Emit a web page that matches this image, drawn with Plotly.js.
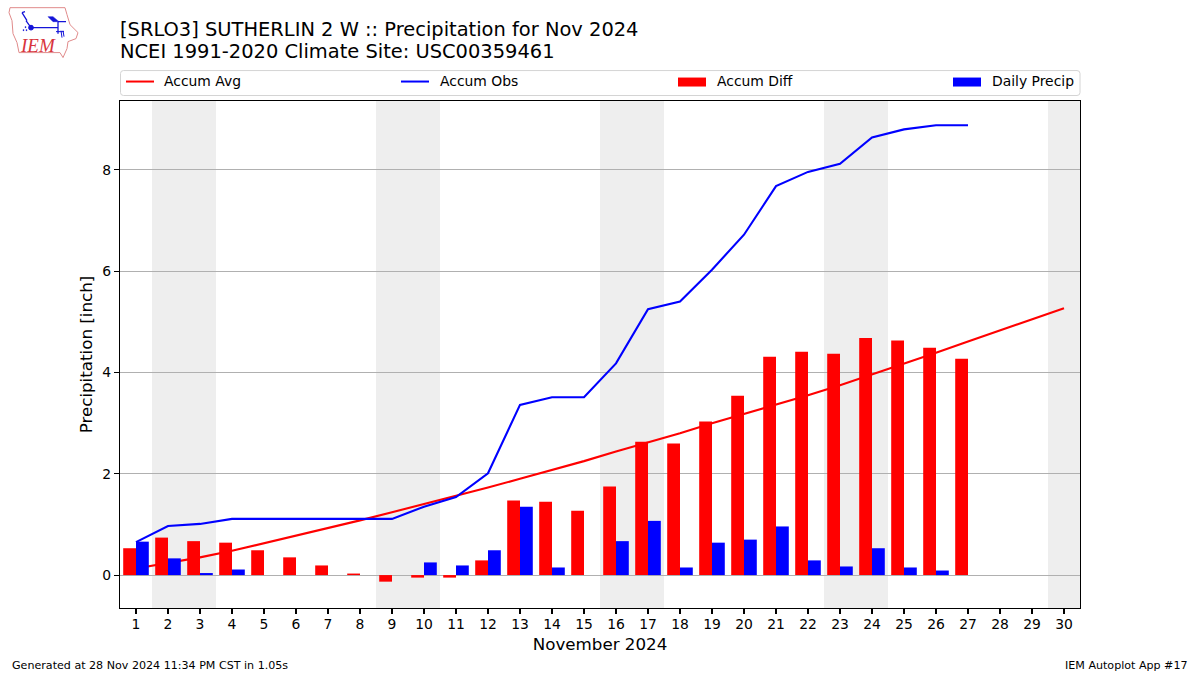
<!DOCTYPE html>
<html>
<head>
<meta charset="utf-8">
<script src="https://cdn.plot.ly/plotly-3.0.1.min.js"></script>
<style>html,body{margin:0;padding:0;background:#fff}#chart{width:1200px;height:675px}</style>
</head>
<body>
<div id="chart"></div>
<script>
const days = [1,2,3,4,5,6,7,8,9,10,11,12,13,14,15,16,17,18,19,20,21,22,23,24,25,26,27,28,29,30];
const accumAvg = [0.13,0.24,0.35,0.48,0.63,0.77,0.93,1.08,1.24,1.40,1.57,1.73,1.90,2.07,2.25,2.44,2.62,2.80,3.00,3.18,3.37,3.55,3.75,3.96,4.17,4.39,4.61,4.83,5.05,5.27];
const obsDays = [1,2,3,4,5,6,7,8,9,10,11,12,13,14,15,16,17,18,19,20,21,22,23,24,25,26,27];
const accumObs = [0.65,0.97,1.01,1.11,1.11,1.11,1.11,1.11,1.11,1.35,1.54,2.01,3.36,3.51,3.51,4.18,5.25,5.40,6.03,6.72,7.68,7.96,8.12,8.64,8.80,8.88,8.88];
const accumDiff = [0.53,0.74,0.67,0.64,0.49,0.35,0.19,0.03,-0.13,-0.05,-0.05,0.29,1.47,1.45,1.27,1.75,2.63,2.60,3.03,3.54,4.31,4.41,4.37,4.68,4.63,4.49,4.27];
const dailyPrecip = [0.66,0.33,0.04,0.11,0,0,0,0,0,0.25,0.19,0.49,1.35,0.15,0,0.67,1.07,0.15,0.64,0.70,0.96,0.29,0.17,0.53,0.15,0.09,0];
const weekendSpans = [[1.5,3.5],[8.5,10.5],[15.5,17.5],[22.5,24.5],[29.5,31]];
const yTicks = [0,2,4,6,8];
const legendLabels = ['Accum Avg','Accum Obs','Accum Diff','Daily Precip'];
const legendColors = ['#ff0000','#0000ff','#ff0000','#0000ff'];

const FONT = 'DejaVu Sans, sans-serif';
const W = 1200, H = 675, L = 120, R = 1080, T = 100.5, B = 608.5;
const X_RANGE = [0.5,30.5], Y_RANGE = [-0.65,9.36];
const px = x => (x - L) / (R - L);
const py = y => 1 - (y - T) / (B - T);

const traces = [
  {type:'scatter', mode:'lines', name:'Accum Avg', x:days, y:accumAvg, line:{color:'#ff0000', width:2.1}},
  {type:'scatter', mode:'lines', name:'Accum Obs', x:obsDays, y:accumObs, line:{color:'#0000ff', width:2.1}},
  {type:'bar', name:'Accum Diff', x:obsDays, y:accumDiff, width:0.4, offset:-0.4, xaxis:'x2', yaxis:'y2', marker:{color:'#ff0000', line:{width:0}}},
  {type:'bar', name:'Daily Precip', x:obsDays, y:dailyPrecip, width:0.4, offset:0, xaxis:'x2', yaxis:'y2', marker:{color:'#0000ff', line:{width:0}}}
];

const shapes = weekendSpans.map(s => ({type:'rect', xref:'x', yref:'paper', x0:s[0], x1:Math.min(s[1],30.5), y0:0, y1:1, layer:'below', fillcolor:'#eeeeee', line:{width:0}}));

// legend frame
const r = 3, lx0 = 120.5, lx1 = 1080, ly0 = 70, ly1 = 95;
shapes.push({type:'path', xref:'paper', yref:'paper', line:{color:'#d4d4d4', width:1},
  path:`M ${px(lx0+r)} ${py(ly0)} L ${px(lx1-r)} ${py(ly0)} Q ${px(lx1)} ${py(ly0)} ${px(lx1)} ${py(ly0+r)} L ${px(lx1)} ${py(ly1-r)} Q ${px(lx1)} ${py(ly1)} ${px(lx1-r)} ${py(ly1)} L ${px(lx0+r)} ${py(ly1)} Q ${px(lx0)} ${py(ly1)} ${px(lx0)} ${py(ly1-r)} L ${px(lx0)} ${py(ly0+r)} Q ${px(lx0)} ${py(ly0)} ${px(lx0+r)} ${py(ly0)} Z`});
const handleX = [126, 401, 678, 953];
const textX = [164, 440, 717, 992];
handleX.forEach((hx,i) => {
  if (i < 2) shapes.push({type:'line', xref:'paper', yref:'paper', x0:px(hx), x1:px(hx+28), y0:py(81), y1:py(81), line:{color:legendColors[i], width:2}});
  else shapes.push({type:'rect', xref:'paper', yref:'paper', x0:px(hx), x1:px(hx+28), y0:py(77), y1:py(86), fillcolor:legendColors[i], line:{width:0}});
});

const ann = (x,y,text,size,anchor,extra) => Object.assign({xref:'paper', yref:'paper', x:px(x), y:py(y), text, showarrow:false, xanchor:anchor||'left', yanchor:'middle', font:{family:FONT, size, color:'#000'}, borderpad:0, borderwidth:0}, extra||{});
const annotations = [
  ann(120, 51, 'NCEI 1991-2020 Climate Site: USC00359461', 19.45),
  ann(11.5, 666, 'Generated at 28 Nov 2024 11:34 PM CST in 1.05s', 11.1),
  ann(1188, 666, 'IEM Autoplot App #17', 11.1, 'right'),
  ann(20, 45, '<i>IEM</i>', 19, 'left', {font:{family:'Liberation Serif, serif', size:19, color:'#d8343c'}})
];
legendLabels.forEach((t,i) => annotations.push(ann(textX[i], 80.6, t, 13.9)));

const logo = `<svg xmlns="http://www.w3.org/2000/svg" width="80" height="60" viewBox="0 0 80 60">
<path d="M10 7 L65 7 L67 14 L70 24 L78 32 L76 38 L68 41 L67 48 L63 57 L60 52 L19 52 L17 42 L13 33 L12 20 L9 12 Z" fill="none" stroke="#e08a8a" stroke-width="1"/>
<g fill="#1414d8" stroke="#1414d8">
<path d="M31 27 L58 27 M58 21 L58 33 M26 20 L31 27 M22 12 L27 20 M58 21 L66 21 M22 12 L25 11" fill="none" stroke-width="1.3"/>
<circle cx="31" cy="27" r="2.4"/>
<path d="M48 16 L53 16 L59 21 L53 21 Z" stroke-width="0.5"/>
<path d="M56 31 L64 31 M61 30 L62 37 M63 30 L64 36" fill="none" stroke-width="1"/>
<path d="M23 29 h1 v1 h-1 Z M25 26 h1 v1 h-1Z M26 29 h1 v1 h-1Z" stroke-width="0.5"/>
</g></svg>`;

const axisFont = {family:FONT, size:13.9, color:'#000'};
const layout = {
  width:W, height:H, autosize:false,
  paper_bgcolor:'#fff', plot_bgcolor:'#fff',
  margin:{l:L, r:W-R, t:T, b:H-B, pad:0},
  showlegend:false,
  barmode:'overlay',
  title:{text:'[SRLO3] SUTHERLIN 2 W :: Precipitation for Nov 2024', x:120/W, xanchor:'left', xref:'container', y:1-29/H, yref:'container', yanchor:'middle', font:{family:FONT, size:19.45, color:'#000'}},
  xaxis:{range:X_RANGE, tickmode:'array', tickvals:days, ticktext:days.map(String), ticks:'outside', ticklen:5, tickwidth:1.1, tickcolor:'#000', tickfont:axisFont, ticklabelstandoff:-2, showgrid:false, zeroline:false, showline:true, linecolor:'#000', linewidth:1.1, mirror:true,
    title:{text:'November 2024', font:{family:FONT, size:16.7, color:'#000'}, standoff:7}},
  yaxis:{range:Y_RANGE, tickmode:'array', tickvals:yTicks, ticktext:yTicks.map(String), ticks:'outside', ticklen:5, tickwidth:1.1, tickcolor:'#000', tickfont:axisFont, showgrid:true, gridcolor:'#b0b0b0', gridwidth:1.1, zeroline:false, showline:true, linecolor:'#000', linewidth:1.1, mirror:true,
    title:{text:'Precipitation [inch]', font:{family:FONT, size:16.7, color:'#000'}, standoff:5}},
  xaxis2:{range:X_RANGE, overlaying:'x', anchor:'y2', visible:false, showgrid:false, zeroline:false},
  yaxis2:{range:Y_RANGE, overlaying:'y', anchor:'x2', visible:false, showgrid:false, zeroline:false},
  shapes, annotations,
  images:[{source:'data:image/svg+xml;utf8,'+encodeURIComponent(logo), xref:'paper', yref:'paper', x:px(0), y:py(0), sizex:px(80)-px(0), sizey:py(0)-py(60), xanchor:'left', yanchor:'top', sizing:'stretch', layer:'above'}]
};
Plotly.newPlot('chart', traces, layout, {displayModeBar:false, staticPlot:true});
</script>
</body>
</html>
